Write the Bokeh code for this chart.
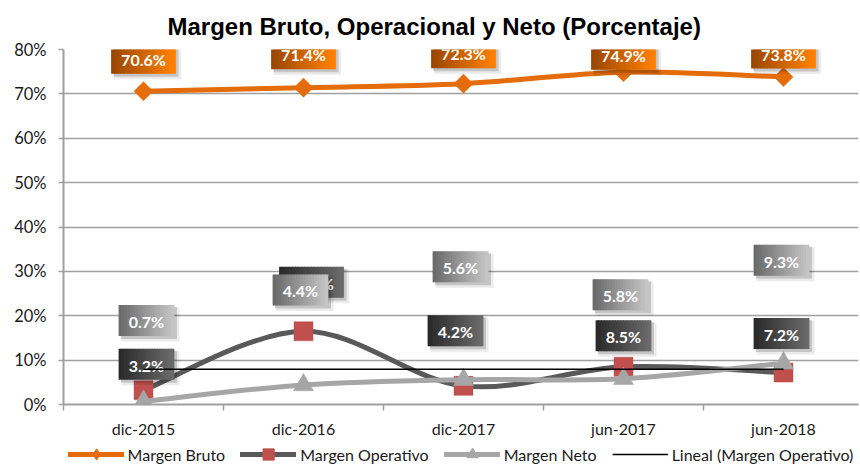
import numpy as np
from bokeh.plotting import figure
from bokeh.layouts import column
from bokeh.models import Range1d, FixedTicker, Legend, LegendItem, PrintfTickFormatter
from bokeh.core.properties import value
from bokeh.embed import file_html
from bokeh.resources import INLINE

# ---------------- data ----------------
categories = ["dic-2015", "dic-2016", "dic-2017", "jun-2017", "jun-2018"]
margen_bruto = [70.6, 71.4, 72.3, 74.9, 73.8]
margen_operativo = [3.2, 16.5, 4.2, 8.5, 7.2]
margen_neto = [0.7, 4.4, 5.6, 5.8, 9.3]
y_ticks = [0, 10, 20, 30, 40, 50, 60, 70, 80]
title_text = "Margen Bruto, Operacional y Neto (Porcentaje)"
series_names = ["Margen Bruto", "Margen Operativo", "Margen Neto", "Lineal (Margen Operativo)"]

# ---------------- label placement (pixel offsets from the point) ----------------
bruto_lbl_dx = [0, 0, 0, 0, 0]
bruto_lbl_dy = [-33, -34, -31, -18, -24]
oper_lbl_dx = [3, 8, -8, 0, -2]
oper_lbl_dy = [-26, -49, -55, -31, -39]
neto_lbl_dx = [3, -3, -3, -3, -2]
neto_lbl_dy = [-81, -95, -113, -84, -103]

# ---------------- styles ----------------
ORANGE = "#E46C0A"
OP_LINE = "#595959"
OP_MARK = "#C0504D"
NETO = "#A6A6A6"
GRID = "#A0A0A0"
TXT = "#1a1a1a"
FONT = "Lato"

FRAME_W, FRAME_H = 795, 355
X0 = 0.5
PXX = 160.0
X1 = X0 + FRAME_W / PXX
Y0, Y1 = 0, 80
PXY = FRAME_H / (Y1 - Y0)

x_idx = list(range(1, len(categories) + 1))

p = figure(frame_width=FRAME_W, frame_height=FRAME_H,
           x_range=Range1d(X0, X1), y_range=Range1d(Y0, Y1),
           output_backend="svg", toolbar_location=None,
           min_border_left=63, min_border_right=2,
           min_border_top=49, min_border_bottom=36)
p.outline_line_color = None
p.background_fill_color = "white"
p.border_fill_color = "white"

# title
p.title.text = title_text
p.title.text_font = "Liberation Sans"
p.title.text_font_size = "24px"
p.title.text_font_style = "bold"
p.title.text_color = "black"
p.title.align = "left"
p.title.offset = 104
p.title.standoff = 20

# x axis
p.xaxis.ticker = FixedTicker(ticks=x_idx, minor_ticks=[i - 0.5 for i in x_idx] + [x_idx[-1] + 0.5])
p.xaxis.major_label_overrides = {i: c for i, c in zip(x_idx, categories)}
p.xaxis.major_tick_line_color = None
p.xaxis.major_tick_out = 0
p.xaxis.major_tick_in = 0
p.xaxis.minor_tick_out = 6
p.xaxis.minor_tick_in = 0
p.xaxis.minor_tick_line_color = GRID
p.xaxis.minor_tick_line_width = 1.5
p.xaxis.axis_line_color = GRID
p.xaxis.axis_line_width = 2
p.xaxis.major_label_standoff = 8
p.xaxis.major_label_text_font = FONT
p.xaxis.major_label_text_font_size = "16px"
p.xaxis.major_label_text_color = TXT

# y axis
p.yaxis.ticker = FixedTicker(ticks=y_ticks)
p.yaxis.formatter = PrintfTickFormatter(format="%d%%")
p.yaxis.major_tick_out = 5
p.yaxis.major_tick_in = 0
p.yaxis.major_tick_line_color = GRID
p.yaxis.major_tick_line_width = 1.5
p.yaxis.minor_tick_line_color = None
p.yaxis.axis_line_color = GRID
p.yaxis.axis_line_width = 2
p.yaxis.major_label_standoff = 12
p.yaxis.major_label_text_font = FONT
p.yaxis.major_label_text_font_size = "16.5px"
p.yaxis.major_label_text_color = TXT

p.xgrid.grid_line_color = None
p.ygrid.ticker = FixedTicker(ticks=y_ticks)
p.ygrid.grid_line_color = GRID
p.ygrid.grid_line_width = 1.5


def smooth(xs, ys):
    n = len(xs)
    P = [np.array([xs[i], ys[i]], dtype=float) for i in range(n)]
    out = {k: [] for k in ("x0", "y0", "x1", "y1", "cx0", "cy0", "cx1", "cy1")}
    for i in range(n - 1):
        p0 = P[i - 1] if i > 0 else P[i]
        p1 = P[i]
        p2 = P[i + 1]
        p3 = P[i + 2] if i + 2 < n else P[i + 1]
        c1 = p1 + (p2 - p0) / 6.0
        c2 = p2 - (p3 - p1) / 6.0
        out["x0"].append(p1[0]); out["y0"].append(p1[1])
        out["x1"].append(p2[0]); out["y1"].append(p2[1])
        out["cx0"].append(c1[0]); out["cy0"].append(c1[1])
        out["cx1"].append(c2[0]); out["cy1"].append(c2[1])
    return out


def series(vals, line_color, marker, mcolor, msize, angle=0.0):
    b = smooth(x_idx, vals)
    p.bezier(**b, line_color=line_color, line_width=5, line_cap="round")
    p.scatter(x=x_idx, y=vals, marker=marker, size=msize, angle=angle,
              fill_color=mcolor, line_color=mcolor, line_width=0.5)


series(margen_bruto, ORANGE, "square", ORANGE, 13.5, np.pi / 4)
series(margen_operativo, OP_LINE, "square", OP_MARK, 19)
series(margen_neto, NETO, "triangle", NETO, 20)


def hex2rgb(h):
    h = h.lstrip("#")
    return tuple(int(h[i:i + 2], 16) for i in (0, 2, 4))


def rgb2hex(c):
    return "#%02x%02x%02x" % tuple(int(round(v)) for v in c)


def labels(vals, dxs, dys, c_left, c_right):
    cl, cr = np.array(hex2rgb(c_left)), np.array(hex2rgb(c_right))
    N = 20
    for xi, v, dx, dy in zip(x_idx, vals, dxs, dys):
        txt = f"{v:.1f}%"
        w = 9 * len(txt) + 19
        h = 31
        cx = xi + dx / PXX
        cy = v - dy / PXY
        # soft shadow
        p.rect(x=[cx + 4 / PXX], y=[cy - 4 / PXY], width=w + 3, height=h + 3,
               width_units="screen", height_units="screen",
               fill_color="black", fill_alpha=0.08, line_color=None)
        p.rect(x=[cx + 2.5 / PXX], y=[cy - 2.5 / PXY], width=w + 1, height=h + 1,
               width_units="screen", height_units="screen",
               fill_color="black", fill_alpha=0.16, line_color=None)
        sx = [cx + (-w / 2 + (k + 0.5) * w / N) / PXX for k in range(N)]
        cols = [rgb2hex(cl + (cr - cl) * (k / (N - 1))) for k in range(N)]
        p.rect(x=sx, y=[cy] * N, width=w / N + 0.8, height=h,
               width_units="screen", height_units="screen",
               fill_color=cols, line_color=None)
        p.text(x=[cx], y=[cy], text=[txt], text_align="center", text_baseline="middle",
               y_offset=1,
               text_font=value(FONT), text_font_style="bold", text_font_size="16px",
               text_color="white")


labels(margen_operativo, oper_lbl_dx, oper_lbl_dy, "#2a2a2a", "#6a6a6a")
labels(margen_neto, neto_lbl_dx, neto_lbl_dy, "#6a6a6a", "#c4c4c4")
labels(margen_bruto, bruto_lbl_dx, bruto_lbl_dy, "#9a4700", "#ff8000")

# linear trend of Margen Operativo
coef = np.polyfit(x_idx, margen_operativo, 1)
tx = [x_idx[0], x_idx[-1]]
trend_y = list(np.polyval(coef, tx))
p.line(x=tx, y=trend_y, line_color="black", line_width=1.5)

# ---------------- legend strip: a small figure below the chart ----------------
# its ranges lie outside the data, so only the legend of these renderers shows
lg = figure(width=860, height=28, x_range=Range1d(100, 101), y_range=Range1d(100, 101),
            output_backend="svg", toolbar_location=None,
            x_axis_type=None, y_axis_type=None,
            min_border_left=0, min_border_right=0, min_border_top=0, min_border_bottom=0)
lg.outline_line_color = None
lg.xgrid.grid_line_color = None
lg.ygrid.grid_line_color = None

l_b = lg.line(x=x_idx, y=margen_bruto, line_color=ORANGE, line_width=5, line_cap="round")
m_b = lg.scatter(x=x_idx, y=margen_bruto, marker="diamond",
                 fill_color=ORANGE, line_color=ORANGE)
l_o = lg.line(x=x_idx, y=margen_operativo, line_color=OP_LINE, line_width=5, line_cap="round")
m_o = lg.scatter(x=x_idx, y=margen_operativo, marker="square", fill_color=OP_MARK, line_color=OP_MARK)
l_n = lg.line(x=x_idx, y=margen_neto, line_color=NETO, line_width=5, line_cap="round")
m_n = lg.scatter(x=x_idx, y=margen_neto, marker="triangle", fill_color=NETO, line_color=NETO)
l_t = lg.line(x=tx, y=trend_y, line_color="black", line_width=1.5)

legend = Legend(items=[
    LegendItem(label=series_names[0], renderers=[l_b, m_b]),
    LegendItem(label=series_names[1], renderers=[l_o, m_o]),
    LegendItem(label=series_names[2], renderers=[l_n, m_n]),
    LegendItem(label=series_names[3], renderers=[l_t]),
], orientation="horizontal", location="center")
legend.glyph_width = 56
legend.glyph_height = 28
legend.label_height = 28
legend.label_standoff = 4
legend.spacing = 15
legend.padding = 0
legend.margin = 0
legend.border_line_color = None
legend.background_fill_alpha = 0
legend.label_text_font = FONT
legend.label_text_font_size = "16px"
legend.label_text_color = TXT
lg.add_layout(legend)

open("out.html", "w").write(file_html(column(p, lg, spacing=0), INLINE))
